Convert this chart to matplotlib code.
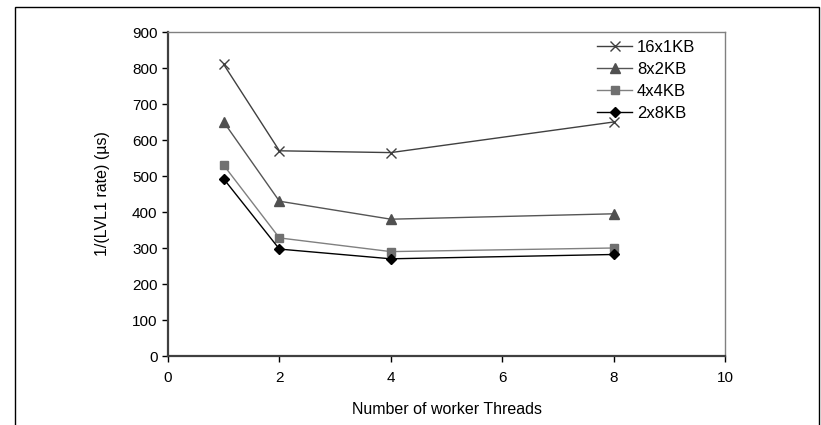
import matplotlib
matplotlib.use("Agg")
import matplotlib.pyplot as plt
from matplotlib.patches import Rectangle

plt.rcParams['font.family'] = ['Liberation Sans', 'DejaVu Sans']

threads = [1, 2, 4, 8]
s16x1 = [810, 570, 565, 650]
s8x2 = [650, 430, 380, 395]
s4x4 = [530, 328, 290, 300]
s2x8 = [492, 297, 270, 282]
series_labels = ['16x1KB', '8x2KB', '4x4KB', '2x8KB']

W, H = 821, 425
fig = plt.figure(figsize=(W / 100, H / 100), dpi=100)
ax = fig.add_axes([168 / W, 1 - 356 / H, (725 - 168) / W, (356 - 32) / H])

# outer frame (bottom edge is cut off in the original)
fig.patches.append(Rectangle((15 / W, -0.2), (819 - 15) / W, 1.2 - 7 / H,
                             transform=fig.transFigure, fill=False,
                             edgecolor='black', linewidth=1.0))

ax.plot(threads, s16x1, color='#404040', lw=1.0, marker='x', ms=7, mew=1.0,
        label=series_labels[0])
ax.plot(threads, s8x2, color='#555555', lw=1.0, marker='^', ms=6.5,
        mfc='#505050', mec='#505050', label=series_labels[1])
ax.plot(threads, s4x4, color='#808080', lw=1.0, marker='s', ms=6,
        mfc='#707070', mec='#707070', label=series_labels[2])
ax.plot(threads, s2x8, color='black', lw=1.0, marker='D', ms=5,
        mfc='black', mec='black', label=series_labels[3])

ax.set_xlim(0, 10)
ax.set_ylim(0, 900)
ax.set_xticks(range(0, 11, 2))
ax.set_yticks(range(0, 901, 100))
ax.tick_params(direction='out', length=4, width=1, labelsize=11, colors='black')
ax.tick_params(axis='x', pad=7)

for side in ['top', 'right']:
    ax.spines[side].set_color('#808080')
    ax.spines[side].set_linewidth(1.0)
for side in ['left', 'bottom']:
    ax.spines[side].set_color('#404040')
    ax.spines[side].set_linewidth(1.6)

ax.set_xlabel('Number of worker Threads', fontsize=11.5, labelpad=12)
ax.set_ylabel('1/(LVL1 rate) (\u00b5s)', fontsize=11.5, labelpad=16)

ax.legend(loc='upper left', bbox_to_anchor=(597 / W, 1 - 40 / H),
          bbox_transform=fig.transFigure, frameon=False, fontsize=12,
          handlelength=2.1, handletextpad=0.3, labelspacing=0.42, borderpad=0,
          borderaxespad=0)

fig.savefig('out.png', dpi=100)
